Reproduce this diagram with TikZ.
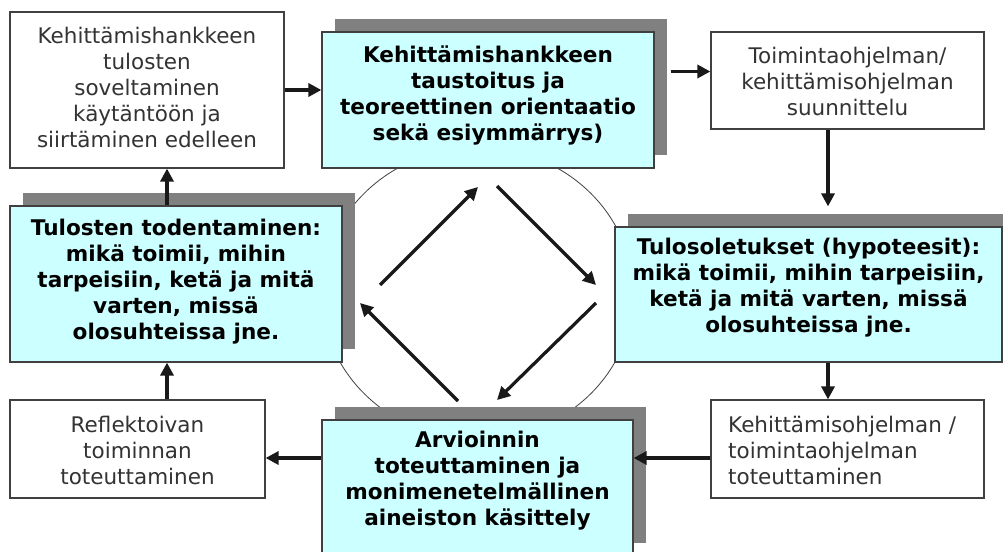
\documentclass[tikz,border=0pt]{standalone}
\usepackage{fontspec}
\setmainfont{DejaVu Sans}
\usetikzlibrary{arrows.meta,shadows,calc}
\definecolor{cyanbox}{HTML}{CCFFFF}
\definecolor{shadowgray}{HTML}{808080}
\definecolor{edgegray}{HTML}{404040}
\definecolor{txtgray}{HTML}{333333}
\begin{document}
\begin{tikzpicture}[x=1pt,y=-1pt,
  plainbox/.style={draw=edgegray, line width=1.2pt, fill=white, inner sep=0pt},
  keybox/.style={draw=edgegray, line width=1.2pt, fill=cyanbox, inner sep=0pt,
    general shadow={fill=shadowgray, shadow xshift=13pt, shadow yshift=13pt}},
  plaintext/.style={inner sep=0pt, text=txtgray, align=center, font=\fontsize{21.5}{26}\selectfont},
  keytext/.style={inner sep=0pt, text=black, align=center, font=\bfseries\fontsize{21.6}{26}\selectfont},
  arr/.style={line width=3.2pt, draw=black!90, -{Triangle[length=13pt,width=13pt]}},
  ring/.style={draw=edgegray, line width=0.8pt, fill=white}
]
\clip (0,0) rectangle (1003,551);
\fill[white] (0,0) rectangle (1003,551);

% central ring
\draw[ring] (477.5,293.5) ellipse [x radius=155.7, y radius=146];

% boxes
\node[plainbox, minimum width=274pt, minimum height=156pt] (TL) at (147,90) {};
\node[keybox,   minimum width=332pt, minimum height=136pt] (TC) at (488,100) {};
\node[plainbox, minimum width=273pt, minimum height=97pt]  (TR) at (847.5,80.5) {};
\node[keybox,   minimum width=332pt, minimum height=156pt] (LC) at (176,284) {};
\node[keybox,   minimum width=387pt, minimum height=135pt] (RC) at (808.5,294.5) {};
\node[plainbox, minimum width=255pt, minimum height=98pt]  (BL) at (137.5,449) {};
\node[keybox,   minimum width=311pt, minimum height=136pt] (BC) at (477.5,488) {};
\node[plainbox, minimum width=273pt, minimum height=98pt]  (BR) at (847.5,449) {};

% texts
\node[plaintext] (TLt) at (147,87.5) {Kehittämishankkeen\\tulosten\\soveltaminen\\käytäntöön ja\\siirtäminen edelleen};
\node[keytext] (TCt) at (488,95) {Kehittämishankkeen\\taustoitus ja\\teoreettinen orientaatio\\sekä esiymmärrys)};
\node[plaintext] (TRt) at (847.5,81) {Toimintaohjelman/\\kehittämisohjelman\\suunnittelu};
\node[keytext] (LCt) at (176,281.5) {Tulosten todentaminen:\\mikä toimii, mihin\\tarpeisiin, ketä ja mitä\\varten, missä\\olosuhteissa jne.};
\node[keytext] (RCt) at (808.5,287.5) {Tulosoletukset (hypoteesit):\\mikä toimii, mihin tarpeisiin,\\ketä ja mitä varten, missä\\olosuhteissa jne.};
\node[plaintext] (BLt) at (137.5,450) {Reflektoivan\\toiminnan\\toteuttaminen};
\node[keytext] (BCt) at (477.5,481) {Arvioinnin\\toteuttaminen ja\\monimenetelmällinen\\aineiston käsittely};
\node[plaintext, align=left, anchor=west] (BRt) at (728,450) {Kehittämisohjelman /\\toimintaohjelman\\toteuttaminen};

% helper coordinates
\coordinate (TRa) at ($(TR.west)+(0,-9)$);
\coordinate (TRb) at ($(TR.south)+(-19.5,0)$);
\coordinate (BRa) at ($(BR.west)+(0,9)$);
\coordinate (BLa) at ($(BL.north)+(29.5,0)$);

% outer cycle connectors
\draw[arr] (TL.east) -- (TL.east -| TC.west);
\draw[arr] ([xshift=16pt]TC.east |- TRa) -- (TRa);
\draw[arr] (TRb) -- ([yshift=20pt]TRb |- RC.north);
\draw[arr] (RC.south -| TRb) -- (BR.north -| TRb);
\draw[arr] (BRa) -- (BRa -| BC.east);
\draw[arr] (BC.west |- BRa) -- (BL.east |- BRa);
\draw[arr] (BLa) -- (BLa |- LC.south);
\draw[arr] (LC.north -| BLa) -- (TL.south -| BLa);

% inner diamond arrows
\coordinate (d1s) at (380,285); \coordinate (d1e) at (478,187);
\coordinate (d2s) at (497,186); \coordinate (d2e) at (596,285);
\coordinate (d3s) at (596,303); \coordinate (d3e) at (497,400);
\coordinate (d4s) at (458,401); \coordinate (d4e) at (360,303);
\draw[arr] (d1s) -- (d1e);
\draw[arr] (d2s) -- (d2e);
\draw[arr] (d3s) -- (d3e);
\draw[arr] (d4s) -- (d4e);
\end{tikzpicture}
\end{document}
